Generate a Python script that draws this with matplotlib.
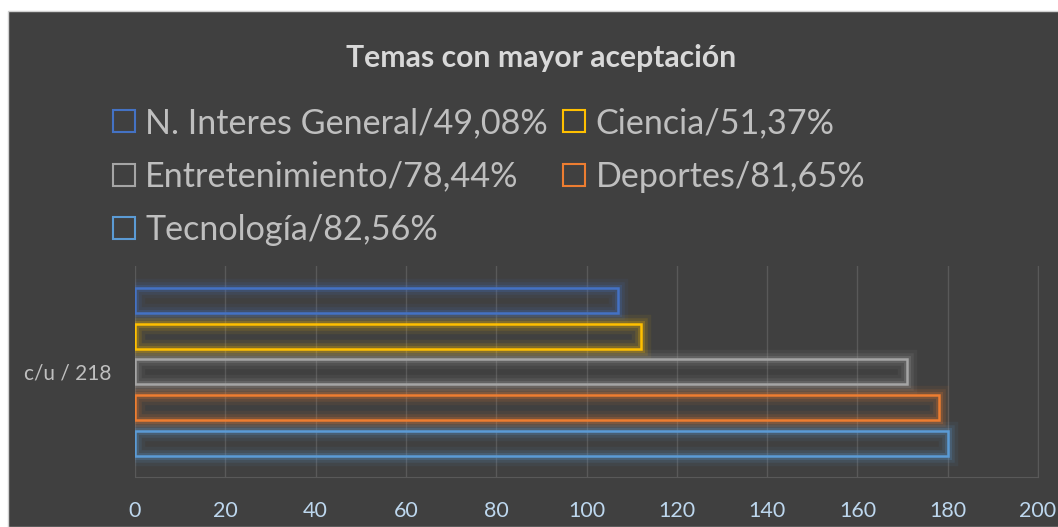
import matplotlib.pyplot as plt
from matplotlib.lines import Line2D
from matplotlib.patches import Rectangle

# data (c/u de 218 personas)
temas = ["N. Interes General/49,08%", "Ciencia/51,37%", "Entretenimiento/78,44%",
         "Deportes/81,65%", "Tecnología/82,56%"]
valores = [107, 112, 171, 178, 180]
colores = ["#4472C4", "#FFC000", "#A5A5A5", "#ED7D31", "#5B9BD5"]
categoria = "c/u / 218"
x_ticks = [0, 20, 40, 60, 80, 100, 120, 140, 160, 180, 200]

plt.rcParams['font.family'] = ['Lato', 'DejaVu Sans']

bg = "#404040"
fig = plt.figure(figsize=(10.58, 5.27), dpi=100)
fig.patch.set_facecolor("white")
# dark chart area with a thin border on the white page
fig.patches.append(Rectangle((8 / 1058, 0), 1, 1 - 11 / 527, transform=fig.transFigure,
                             facecolor=bg, edgecolor="#D0D0D0", linewidth=1, zorder=-5))

ax = fig.add_axes([135 / 1058, 50 / 527, 903 / 1058, 211 / 527])
ax.set_facecolor(bg)

pos = list(range(len(valores)))
for glow_lw, glow_a in [(14, 0.07), (9, 0.12), (5, 0.2)]:
    ax.barh(pos, valores, height=0.7, facecolor="none", edgecolor=colores,
            linewidth=glow_lw, alpha=glow_a, zorder=2)
ax.barh(pos, valores, height=0.7, facecolor="none", edgecolor=colores,
        linewidth=1.8, zorder=3)

ax.set_xlim(0, 200)
ax.set_ylim(4.94, -0.96)
ax.set_xticks(x_ticks)
ax.set_xticklabels([str(t) for t in x_ticks], color="#BDD7EE", fontsize=15.5)
ax.set_yticks([2])
ax.set_yticklabels([categoria], color="#BFBFBF", fontsize=15)
ax.tick_params(axis="x", length=0, pad=17)
ax.tick_params(axis="y", length=0, pad=17)
ax.grid(axis="x", color="#595959", linewidth=1, zorder=0)
for s in ["top", "left"]:
    ax.spines[s].set_visible(False)
ax.spines["bottom"].set_color("#595959")
ax.spines["right"].set_color("#595959")

fig.text(541 / 1058, 1 - 58 / 527, "Temas con mayor aceptación", ha="center", va="center",
         fontsize=21.7, fontweight="bold", color="#D9D9D9")

handles = [Line2D([], [], linestyle="none", marker="s", markersize=15.5,
                  markerfacecolor="none", markeredgecolor=c, markeredgewidth=1.5)
           for c in colores]
order = [0, 2, 4, 1, 3]
leg = fig.legend([handles[i] for i in order], [temas[i] for i in order], ncol=2,
                 loc="upper left", bbox_to_anchor=(111 / 1058, 1 - 107 / 527),
                 frameon=False, fontsize=24.6, labelcolor="#BFBFBF",
                 handlelength=0.75, handletextpad=0.25, columnspacing=0.4,
                 labelspacing=0.63, borderpad=0, borderaxespad=0)

fig.savefig("out.png", dpi=100, facecolor=fig.get_facecolor())
